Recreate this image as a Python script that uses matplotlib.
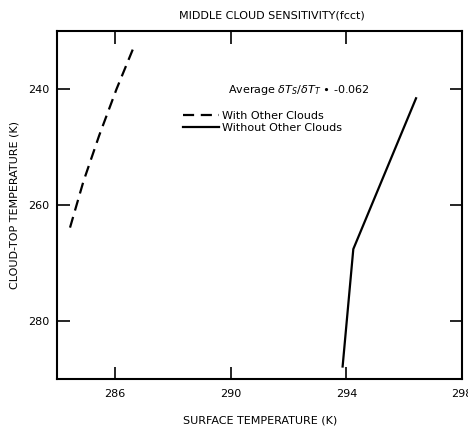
import matplotlib as mpl

mpl.use('Agg')
import matplotlib.pyplot as plt

plt.rcParams['font.family'] = ['DejaVu Sans']

# data
with_ts = [284.44, 284.90, 285.45, 286.05, 286.61]      # surface temperature (K)
with_tt = [263.9, 256.0, 248.0, 240.0, 233.2]           # cloud-top temperature (K)
without_ts = [293.87, 294.24, 296.41]
without_tt = [287.85, 267.6, 241.6]

x_ticks = [286, 290, 294, 298]
y_ticks = [240, 260, 280]

fig = plt.figure(figsize=(4.68, 4.26), dpi=100)
ax = fig.add_axes([57.3 / 468, 1 - 379 / 426, (462 - 57.3) / 468, (379 - 31) / 426])

ax.plot(with_ts, with_tt, color='black', lw=1.6, dashes=(5, 3), label='With Other Clouds')
ax.plot(without_ts, without_tt, color='black', lw=1.6, label='Without Other Clouds')

ax.set_xlim(284, 298)
ax.set_ylim(290, 230)
ax.set_xticks(x_ticks)
ax.set_yticks(y_ticks)
ax.tick_params(direction='in', length=9, width=1.2, top=True, right=True,
               labelsize=8)
ax.tick_params(axis='x', pad=7)
ax.tick_params(axis='y', pad=6)
for s in ax.spines.values():
    s.set_linewidth(1.5)

ax.set_xlabel('SURFACE TEMPERATURE (K)', fontsize=8, labelpad=12)
ax.set_ylabel('CLOUD-TOP TEMPERATURE (K)', fontsize=8, labelpad=6)
fig.text(272 / 468, 1 - 15 / 426, 'MIDDLE CLOUD SENSITIVITY(fcct)', ha='center',
         va='center', fontsize=8)

fig.text(228 / 468, 1 - 90 / 426, r'Average $\delta T_S/\delta T_T$ $\bullet$ -0.062',
         ha='left', va='center', fontsize=8)

leg = ax.legend(loc='upper left', bbox_to_anchor=((183 - 57.3) / 404.7, 1 - (111 - 31) / 348),
                frameon=False, fontsize=8, handlelength=3.2, handletextpad=0.3,
                labelspacing=0.15, borderaxespad=0, borderpad=0)

plt.savefig('out.png', dpi=100)
